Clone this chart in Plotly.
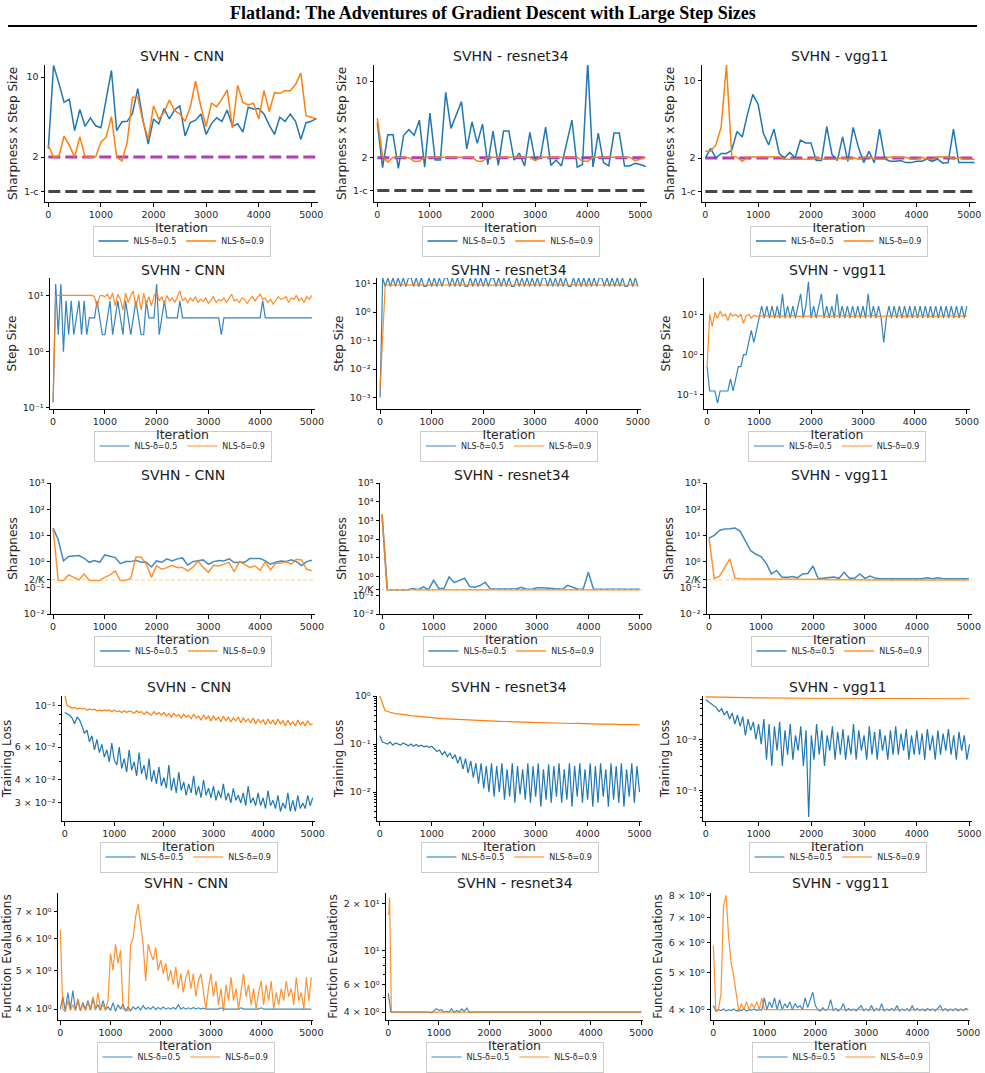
import plotly.graph_objects as go

W, H = 985, 1073
BLUE, ORANGE = '#1f77b4', '#ff7f0e'
LBL05, LBL09 = 'NLS-δ=0.5', 'NLS-δ=0.9'
COL_TITLES = ['SVHN - CNN', 'SVHN - resnet34', 'SVHN - vgg11']
ROW_YLABELS = ['Sharpness x Step Size', 'Step Size', 'Sharpness', 'Training Loss', 'Function Evaluations']
XTICKS = [0, 1000, 2000, 3000, 4000, 5000]

# ---------------- data ----------------
X_R1 = list(range(0, 5101, 100))
X100 = list(range(0, 5001, 100))
X50 = list(range(0, 5001, 50))
TWO = 2.0
ONE_MINUS_C = 1.0
TWO_OVER_K = 0.2

cnn_ss_05 = [2.37, 12.6, 8.85, 6.0, 6.4, 3.4, 5.2, 3.7, 4.4, 3.75, 3.6, 6.5, 11.4, 3.4, 4.06, 4.1, 4.8, 7.9, 4.2, 2.6,
             4.3, 3.9, 5.3, 4.3, 5.15, 5.6, 3.06, 4.0, 4.2, 4.75, 3.15, 3.9, 4.4, 4.1, 5.15, 3.7, 3.9, 3.3, 5.45, 5.25,
             5.3, 4.75, 3.8, 3.15, 4.45, 4.1, 4.75, 4.1, 2.85, 3.99, 4.1, 4.35]
cnn_ss_09 = [2.53, 2.0, 2.03, 3.05, 2.53, 2.0, 3.0, 2.0, 2.0, 2.0, 2.7, 2.98, 4.5, 2.0, 1.85, 2.7, 6.67, 6.67, 4.06, 2.87,
             5.6, 4.3, 4.9, 6.3, 5.1, 4.75, 4.1, 5.5, 9.2, 5.5, 3.7, 5.9, 5.5, 6.4, 7.7, 3.6, 8.45, 6.0, 5.7, 5.9,
             4.3, 7.6, 5.0, 7.3, 7.2, 7.6, 7.6, 8.6, 10.8, 4.6, 4.45, 4.3]
res_ss_05 = [4.2, 1.62, 3.23, 3.23, 1.6, 3.2, 3.6, 3.2, 4.4, 1.64, 5.1, 1.9, 1.9, 7.9, 3.7, 4.9, 6.5, 2.4, 4.25, 2.7,
             4.05, 1.73, 3.5, 1.7, 3.5, 3.5, 1.9, 2.2, 1.68, 3.4, 1.9, 2.0, 3.8, 1.7, 1.9, 1.68, 2.75, 4.4, 1.64, 1.73,
             14.8, 1.64, 3.35, 1.8, 1.68, 3.35, 3.35, 1.68, 1.68, 1.78, 1.73, 1.66]
res_ss_09 = [4.6, 2.05, 1.82, 2.02, 2.02, 2.02, 2.0, 1.85, 1.85, 2.02, 2.02, 2.02, 2.02, 2.02, 2.02, 2.02, 2.02, 2.02, 2.02, 1.85,
             1.85, 2.02, 2.02, 2.02, 2.02, 2.02, 2.02, 2.02, 2.02, 2.02, 1.88, 2.02, 2.02, 2.02, 2.02, 2.02, 2.02, 2.02, 2.02, 1.85,
             1.85, 2.02, 2.02, 2.02, 2.02, 2.02, 2.02, 2.02, 2.02, 1.88, 1.95, 2.02]
vgg_ss_05 = [2.0, 2.45, 2.0, 2.2, 2.2, 2.35, 3.47, 3.1, 5.0, 7.5, 6.1, 3.35, 2.63, 3.65, 2.2, 2.0, 2.25, 2.0, 2.9, 2.74,
             2.74, 1.9, 1.9, 3.85, 2.15, 1.9, 3.1, 1.87, 3.78, 2.5, 1.82, 2.3, 1.82, 3.65, 1.96, 1.87, 1.87, 1.9, 1.82, 1.82,
             1.87, 1.87, 1.96, 1.87, 1.96, 1.8, 1.82, 3.65, 1.82, 1.82, 1.82, 1.82]
vgg_ss_09 = [2.3, 2.3, 2.63, 3.8, 13.8, 2.07, 2.04, 1.87, 2.04, 2.05, 2.05, 2.05, 2.05, 2.05, 2.05, 1.95, 1.95, 1.95, 1.95, 1.96,
             1.96, 2.02, 1.96, 1.95, 1.95, 1.96, 2.03, 1.95, 2.02, 1.95, 2.03, 2.03, 1.95, 1.95, 1.96, 2.05, 2.05, 2.05, 2.03, 1.95,
             1.95, 2.03, 1.96, 1.95, 2.05, 2.05, 2.05, 1.95, 2.02, 1.95, 1.95, 1.95]

cnn_step_05 = [0.125, 16, 2, 16, 1, 8, 2, 8, 2, 4,
               8, 2, 8, 2, 4, 4, 4, 8, 4, 2,
               2, 4, 8, 2, 4, 8, 4, 2, 8, 4,
               2, 4, 8, 4, 2, 2, 8, 4, 4, 4,
               16, 2, 4, 8, 4, 4, 4, 4, 4, 8,
               4, 4, 4, 4, 4, 4, 4, 4, 4, 4,
               4, 4, 4, 4, 4, 2, 4, 4, 4, 4,
               4, 4, 4, 4, 4, 4, 4, 4, 4, 4,
               4, 8, 4, 4, 4, 4, 4, 4, 4, 4,
               4, 4, 4, 4, 4, 4, 4, 4, 4, 4,
               4]
cnn_step_09 = [0.13, 9.8, 10, 10, 10, 9.9, 10, 10, 10, 9.8,
               10, 10, 10, 9.9, 10, 10, 9.5, 6.2, 9.8, 10,
               9.5, 10.5, 8.5, 11, 6.5, 10.5, 8.5, 5.5, 11, 7.5,
               10, 12, 6, 10.5, 5.5, 11, 7, 9.5, 6.5, 10,
               11.5, 8, 9.5, 7, 10, 8, 9, 7.5, 9.5, 12,
               8, 9, 7.5, 9, 8, 9.5, 7.5, 8.5, 7.8, 9,
               7.2, 8.5, 9.5, 7.5, 8.5, 8, 9, 7.5, 8.8, 10.5,
               8, 8.5, 7.5, 9, 8.5, 7.2, 8.5, 9.5, 8, 9,
               10.5, 8.5, 9, 7.5, 8.5, 7, 8.2, 9.5, 8.5, 8.8,
               9.5, 7.5, 9, 8.5, 10, 8, 9, 7.5, 9.5, 8.5,
               10]
res_step_05 = [0.001, 16, 8, 16, 8, 16, 8, 16, 8, 16,
               8, 16, 16, 8, 16, 8, 16, 8, 8, 16,
               8, 16, 8, 16, 8, 16, 16, 8, 16, 8,
               16, 8, 16, 8, 8, 16, 8, 16, 8, 16,
               8, 16, 8, 16, 16, 8, 16, 8, 16, 8,
               16, 8, 8, 16, 8, 16, 8, 16, 8, 16,
               8, 16, 8, 16, 16, 8, 16, 8, 16, 8,
               16, 8, 16, 8, 8, 16, 8, 16, 8, 16,
               8, 16, 8, 16, 8, 16, 16, 8, 16, 8,
               16, 8, 16, 8, 16, 8, 8, 16, 8, 16,
               8]
res_step_09 = [0.002, 9.0, 9.1, 8.9, 9.0, 9.1, 9.0, 8.9, 9.0, 9.1,
               9.0, 8.9, 9.0, 9.1, 9.0, 8.9, 9.0, 9.1, 9.0, 8.9,
               9.0, 9.1, 9.0, 8.9, 9.0, 9.1, 9.0, 8.9, 9.0, 9.1,
               9.0, 8.9, 9.0, 9.1, 9.0, 8.9, 9.0, 9.1, 9.0, 8.9,
               9.0, 9.1, 9.0, 8.9, 9.0, 9.1, 9.0, 8.9, 9.0, 9.1,
               9.0]
vgg_step_05 = [0.5, 0.125, 0.125, 0.125, 0.0625, 0.125, 0.125, 0.125, 0.125, 0.25,
               0.125, 0.25, 0.5, 0.5, 1, 1, 2, 4, 2, 4,
               8, 16, 8, 16, 8, 16, 8, 16, 8, 32,
               8, 16, 8, 16, 8, 16, 32, 8, 16, 64,
               8, 16, 8, 16, 32, 8, 16, 8, 16, 8,
               32, 8, 16, 8, 16, 8, 16, 8, 16, 8,
               16, 8, 32, 8, 16, 8, 16, 8, 2, 8,
               16, 8, 16, 8, 16, 8, 16, 8, 16, 8,
               16, 8, 16, 8, 16, 8, 16, 8, 16, 8,
               16, 8, 16, 8, 16, 8, 16, 8, 16, 8,
               16]
vgg_step_09 = [0.5, 10, 5, 11, 8, 12, 9, 10, 7, 10.5,
               9, 10, 8.5, 10, 6, 9, 10, 8, 9.5, 9,
               9, 9.1, 8.9, 9, 9.2, 8.9, 9, 9.1, 8.9, 9,
               9, 9.1, 8.9, 9, 9.2, 8.9, 9, 9.1, 8.9, 9,
               9, 9.1, 8.9, 9, 9.2, 8.9, 9, 9.1, 8.9, 9,
               9, 9.1, 8.9, 9, 9.2, 8.9, 9, 9.1, 8.9, 9,
               9, 9.1, 8.9, 9, 9.2, 8.9, 9, 9.1, 8.9, 9,
               9, 9.1, 8.9, 9, 9.2, 8.9, 9, 9.1, 8.9, 9,
               9, 9.1, 8.9, 9, 9.2, 8.9, 9, 9.1, 8.9, 9,
               9, 9.1, 8.9, 9, 9.2, 8.9, 9, 9.1, 8.9, 9,
               9]

cnn_sh_05 = [19, 6.8, 1.06, 1.56, 1.65, 1.7, 1.34, 0.94, 1.09, 0.94, 1.8, 1.6, 1.42, 0.84, 1.0, 1.0, 1.13, 0.94, 0.94, 0.62,
             1.06, 0.94, 1.27, 1.06, 1.27, 1.38, 0.74, 1.0, 1.09, 1.16, 0.79, 1.0, 1.09, 1.06, 1.27, 0.92, 0.94, 0.94, 1.3, 1.3,
             1.3, 1.06, 0.79, 0.94, 1.06, 1.0, 1.16, 1.0, 0.7, 1.0, 1.13]
cnn_sh_09 = [19, 0.19, 0.19, 0.31, 0.25, 0.2, 0.34, 0.19, 0.19, 0.19, 0.25, 0.31, 0.44, 0.19, 0.19, 0.23, 1.5, 1.5, 0.81, 0.25,
             0.7, 0.51, 0.59, 0.72, 0.6, 0.6, 0.44, 0.6, 1.06, 0.6, 0.39, 0.72, 0.68, 0.79, 0.94, 0.41, 1.0, 0.79, 0.6, 0.68,
             0.46, 1.0, 0.48, 0.86, 0.86, 1.0, 0.81, 1.23, 1.16, 0.51, 0.45]
res_sh_05 = [2100, 0.2, 0.2, 0.2, 0.2, 0.2, 0.23, 0.2, 0.28, 0.2, 0.63, 0.23, 0.23, 0.96, 0.47, 0.6, 0.81, 0.29, 0.27, 0.33,
             0.5, 0.22, 0.22, 0.22, 0.22, 0.22, 0.22, 0.27, 0.21, 0.21, 0.25, 0.25, 0.24, 0.22, 0.23, 0.21, 0.34, 0.27, 0.21, 0.21,
             1.7, 0.21, 0.21, 0.23, 0.21, 0.21, 0.21, 0.21, 0.21, 0.23, 0.21]
res_sh_09_x = [0, 100, 1000, 2000, 3000, 4000, 5000]
res_sh_09 = [2100, 0.2, 0.195, 0.195, 0.195, 0.195, 0.195]
vgg_sh_05 = [7.9, 10, 15.5, 17.5, 18, 19, 14.3, 6.2, 2.6, 1.9, 1.56, 0.86, 0.34, 0.46, 0.26, 0.25, 0.27, 0.24, 0.34, 0.35,
             0.68, 0.22, 0.23, 0.24, 0.26, 0.23, 0.39, 0.23, 0.23, 0.34, 0.23, 0.28, 0.23, 0.22, 0.22, 0.22, 0.22, 0.22, 0.22, 0.22,
             0.22, 0.22, 0.24, 0.22, 0.24, 0.22, 0.22, 0.22, 0.22, 0.22, 0.22]
vgg_sh_09_x = [0, 100, 200, 300, 400, 500, 600, 1000, 1500, 2000, 2500, 3000, 3500, 4000, 4500, 5000]
vgg_sh_09 = [7.9, 0.23, 0.28, 0.6, 1.27, 0.23, 0.22, 0.215, 0.21, 0.205, 0.2, 0.2, 0.2, 0.2, 0.2, 0.2]

cnn_loss_05 = [0.092, 0.090, 0.089, 0.086, 0.080, 0.087, 0.084, 0.078, 0.071, 0.074,
               0.064, 0.069, 0.058, 0.066, 0.056, 0.062, 0.053, 0.058, 0.050, 0.063,
               0.051, 0.048, 0.060, 0.046, 0.052, 0.044, 0.058, 0.045, 0.050, 0.042,
               0.056, 0.043, 0.048, 0.040, 0.052, 0.039, 0.045, 0.038, 0.047, 0.037,
               0.041, 0.036, 0.048, 0.035, 0.041, 0.034, 0.044, 0.035, 0.039, 0.033,
               0.038, 0.034, 0.042, 0.033, 0.037, 0.032, 0.040, 0.033, 0.036, 0.032,
               0.037, 0.031, 0.035, 0.032, 0.038, 0.031, 0.034, 0.030, 0.036, 0.031,
               0.033, 0.030, 0.034, 0.029, 0.037, 0.030, 0.032, 0.029, 0.034, 0.029,
               0.032, 0.028, 0.035, 0.029, 0.031, 0.028, 0.033, 0.027, 0.030, 0.028,
               0.034, 0.027, 0.031, 0.027, 0.033, 0.028, 0.030, 0.028, 0.033, 0.029,
               0.032]
cnn_loss_09 = [0.115, 0.100, 0.099, 0.097, 0.098, 0.096, 0.097, 0.096, 0.097, 0.095,
               0.096, 0.095, 0.096, 0.094, 0.095, 0.094, 0.095, 0.094, 0.095, 0.093,
               0.095, 0.093, 0.094, 0.092, 0.094, 0.092, 0.094, 0.093, 0.091, 0.094,
               0.092, 0.093, 0.090, 0.093, 0.091, 0.089, 0.093, 0.090, 0.092, 0.089,
               0.092, 0.088, 0.091, 0.087, 0.091, 0.088, 0.090, 0.086, 0.090, 0.087,
               0.089, 0.085, 0.090, 0.086, 0.088, 0.084, 0.089, 0.085, 0.088, 0.083,
               0.088, 0.084, 0.087, 0.082, 0.088, 0.083, 0.087, 0.082, 0.086, 0.083,
               0.087, 0.081, 0.086, 0.082, 0.085, 0.081, 0.086, 0.080, 0.085, 0.081,
               0.084, 0.079, 0.085, 0.080, 0.084, 0.079, 0.085, 0.080, 0.083, 0.078,
               0.084, 0.079, 0.082, 0.078, 0.084, 0.079, 0.082, 0.078, 0.083, 0.079,
               0.080]
res_loss_05 = [0.15, 0.11, 0.105, 0.1, 0.11, 0.095, 0.105, 0.1, 0.095, 0.105,
               0.098, 0.092, 0.1, 0.09, 0.098, 0.09, 0.095, 0.088, 0.092, 0.085,
               0.09, 0.08, 0.07, 0.075, 0.06, 0.07, 0.055, 0.065, 0.05, 0.06,
               0.04, 0.055, 0.03, 0.05, 0.025, 0.045, 0.02, 0.04, 0.015, 0.04,
               0.012, 0.035, 0.01, 0.04, 0.008, 0.035, 0.01, 0.04, 0.007, 0.03,
               0.008, 0.04, 0.006, 0.035, 0.009, 0.03, 0.007, 0.04, 0.006, 0.035,
               0.008, 0.04, 0.005, 0.03, 0.007, 0.038, 0.006, 0.035, 0.008, 0.04,
               0.006, 0.03, 0.007, 0.04, 0.005, 0.035, 0.008, 0.04, 0.006, 0.03,
               0.007, 0.04, 0.005, 0.035, 0.006, 0.04, 0.008, 0.03, 0.005, 0.04,
               0.007, 0.035, 0.006, 0.04, 0.005, 0.03, 0.008, 0.04, 0.006, 0.035,
               0.01]
res_loss_09 = [1.0, 0.5, 0.46, 0.43, 0.42, 0.4, 0.39, 0.38, 0.37, 0.36,
               0.35, 0.345, 0.34, 0.335, 0.33, 0.325, 0.32, 0.318, 0.315, 0.31,
               0.305, 0.3, 0.302, 0.298, 0.295, 0.29, 0.292, 0.288, 0.285, 0.283,
               0.28, 0.282, 0.278, 0.275, 0.272, 0.275, 0.27, 0.268, 0.27, 0.265,
               0.265, 0.262, 0.26, 0.263, 0.258, 0.26, 0.255, 0.258, 0.252, 0.255,
               0.25]
vgg_loss_05 = [0.060, 0.055, 0.05, 0.045, 0.042, 0.035, 0.04, 0.03, 0.036, 0.025,
               0.033, 0.02, 0.03, 0.018, 0.028, 0.012, 0.025, 0.015, 0.022, 0.01,
               0.02, 0.008, 0.025, 0.004, 0.02, 0.003, 0.018, 0.006, 0.022, 0.003,
               0.015, 0.005, 0.02, 0.004, 0.012, 0.006, 0.018, 0.003, 0.015, 0.0003,
               0.012, 0.004, 0.02, 0.005, 0.015, 0.003, 0.012, 0.006, 0.018, 0.004,
               0.014, 0.005, 0.016, 0.004, 0.012, 0.005, 0.02, 0.004, 0.015, 0.006,
               0.012, 0.004, 0.018, 0.005, 0.014, 0.004, 0.016, 0.006, 0.012, 0.004,
               0.015, 0.005, 0.018, 0.005, 0.013, 0.006, 0.016, 0.004, 0.012, 0.005,
               0.015, 0.005, 0.013, 0.004, 0.016, 0.006, 0.012, 0.004, 0.015, 0.005,
               0.013, 0.006, 0.016, 0.005, 0.012, 0.004, 0.014, 0.006, 0.012, 0.004,
               0.008]
vgg_loss_09_x = [0, 500, 1000, 2000, 3000, 4000, 5000]
vgg_loss_09 = [0.068, 0.066, 0.065, 0.064, 0.0635, 0.063, 0.0625]

fe_cnn_05 = [4.0, 4.3, 3.95, 4.4, 4.0, 4.45, 3.98, 4.2, 3.96, 4.15,
             4.0, 4.2, 3.97, 4.25, 4.0, 4.1, 3.97, 4.2, 4.0, 4.05,
             3.97, 4.15, 3.95, 4.1, 4.0, 4.12, 3.95, 4.05, 3.96, 4.05,
             4.0, 4.05, 3.98, 4.08, 4.0, 4.04, 4.0, 4.06, 3.99, 4.04,
             4.0, 4.05, 4.0, 4.03, 4.0, 4.04, 4.0, 4.1, 4.0, 4.04,
             4.0, 4.03, 4.0, 4.04, 4.0, 4.03, 4.0, 4.02, 4.0, 4.0,
             4.0, 4.0, 4.0, 4.0, 4.03, 4.0, 4.0, 4.0, 4.0, 4.0,
             4.0, 4.0, 4.03, 4.0, 4.0, 4.0, 4.0, 4.0, 4.0, 4.0,
             4.03, 4.0, 4.0, 4.0, 4.0, 4.0, 4.0, 4.0, 4.0, 4.0,
             4.0, 4.0, 4.0, 4.0, 4.0, 4.0, 4.0, 4.0, 4.0, 4.0,
             4.0]
fe_cnn_09 = [6.3, 4.0, 3.95, 4.2, 3.97, 4.1, 3.96, 4.25, 3.98, 4.1,
             3.96, 4.15, 4.0, 4.3, 3.97, 4.4, 4.0, 4.1, 3.97, 4.2,
             5.5, 5.0, 5.8, 5.2, 5.6, 4.0, 4.0, 3.95, 5.8, 6.0,
             6.8, 7.3, 6.5, 5.8, 4.7, 5.8, 5.5, 5.3, 5.7, 5.0,
             5.3, 4.9, 5.2, 4.7, 5.0, 4.6, 5.1, 4.5, 4.9, 4.4,
             4.8, 5.0, 4.5, 4.9, 4.3, 4.7, 4.9, 4.4, 4.0, 4.5,
             4.9, 4.3, 4.7, 4.1, 4.5, 3.95, 4.6, 4.2, 4.8, 4.2,
             4.5, 4.0, 4.4, 4.9, 4.3, 4.6, 4.1, 4.5, 4.0, 4.4,
             4.7, 4.1, 4.6, 4.2, 4.7, 4.0, 4.4, 4.1, 4.5, 4.2,
             4.7, 4.3, 4.5, 4.1, 4.8, 4.2, 4.4, 4.0, 4.8, 4.2,
             4.8]
fe_res_05 = [5.3, 4.0, 4.0, 4.0, 4.0, 4.0, 4.0, 4.0, 4.0, 4.0,
             4.0, 4.0, 4.0, 4.0, 4.0, 4.0, 4.0, 3.95, 4.05, 4.2,
             4.1, 4.15, 4.0, 4.05, 4.0, 4.2, 3.98, 4.1, 4.0, 4.2,
             4.05, 4.25, 4.0, 3.98, 4.0, 4.0, 4.0, 4.0, 4.0, 4.0,
             4.0, 4.0, 4.0, 4.0, 4.0, 4.0, 4.0, 4.0, 4.0, 4.0,
             4.0, 4.0, 4.0, 4.0, 4.0, 4.0, 4.0, 4.0, 4.0, 4.0,
             4.0, 4.0, 4.0, 4.0, 4.0, 4.0, 4.0, 4.0, 4.0, 4.0,
             4.0, 4.0, 4.0, 4.0, 4.0, 4.0, 4.0, 4.0, 4.0, 4.0,
             4.0, 4.0, 4.0, 4.0, 4.0, 4.0, 4.0, 4.0, 4.0, 4.0,
             4.0, 4.0, 4.0, 4.0, 4.0, 4.0, 4.0, 4.0, 4.0, 4.0,
             4.0]
fe_res_09_x = [0, 10, 25, 60, 100, 1000, 2000, 3000, 4000, 5000]
fe_res_09 = [17, 17.5, 22, 4.0, 4.0, 4.0, 4.0, 4.0, 4.0, 4.0]
fe_vgg_05 = [4.1, 3.97, 4.0, 3.98, 4.02, 3.97, 4.0, 3.98, 4.02, 3.97,
             4.0, 3.98, 4.02, 3.97, 4.0, 3.99, 4.02, 3.98, 4.0, 3.99,
             4.3, 4.0, 4.2, 4.05, 4.3, 4.0, 4.25, 4.0, 4.15, 4.05,
             4.2, 4.0, 4.15, 4.05, 4.1, 4.0, 4.3, 4.05, 4.25, 4.45,
             4.1, 4.0, 3.97, 4.05, 3.98, 4.02, 4.25, 3.98, 4.03, 3.97,
             4.02, 4.15, 3.97, 4.03, 3.98, 4.02, 3.97, 4.03, 4.1, 3.98,
             4.02, 3.98, 4.1, 3.97, 4.03, 3.98, 4.15, 3.97, 4.02, 3.98,
             4.03, 3.98, 4.1, 3.97, 4.02, 3.98, 4.03, 3.97, 4.1, 3.98,
             4.03, 3.98, 4.02, 3.97, 4.03, 3.98, 4.02, 3.97, 4.03, 4.1,
             3.98, 4.03, 3.97, 4.02, 3.98, 4.03, 3.97, 4.02, 3.98, 4.03,
             4.0]
fe_vgg_09_x = list(range(0, 1001, 50)) + [2000, 3000, 4000, 5000]
fe_vgg_09 = [5.9, 3.95, 4.0, 4.4, 7.5, 8.0, 6.2, 5.3, 4.9, 4.4,
             3.95, 4.15, 4.0, 4.2, 4.0, 4.15, 4.05, 4.2, 4.0, 4.3,
             4.0, 4.0, 4.0, 4.0, 4.0]

# ---------------- helpers ----------------
SUP = str.maketrans('-0123456789', '⁻⁰¹²³⁴⁵⁶⁷⁸⁹')
def p10(e):
    return '10' + str(e).translate(SUP)
def m10(m, e):
    return f'{m} × 10' + str(e).translate(SUP)

def fx(p):
    return p / W
def fy(p):
    return 1 - p / H

# layout geometry (pixels)
ROW_Y = [(65, 202), (278, 409), (483, 614), (696, 821), (893, 1020)]
ROW_X = [[(45, 318), (374, 647), (702, 976)],
         [(50, 315), (377, 641), (704, 970)],
         [(51, 315), (380, 643), (707, 972)],
         [(62, 315), (377, 642), (703, 972)],
         [(58, 313), (386, 643), (711, 970)]]
TITLE_Y = [56, 270, 475, 687, 883]
LEG_Y = [241, 446, 651, 857, 1057]

def dec_axis(lo, hi, extra=None):
    vals = [10.0 ** e for e in range(lo, hi + 1)]
    txt = [p10(e) for e in range(lo, hi + 1)]
    if extra:
        vals.append(extra[0]); txt.append(extra[1])
    return vals, txt

sharp_cnn = dec_axis(-2, 3, (TWO_OVER_K, '2/K'))
sharp_res = dec_axis(-2, 5, (TWO_OVER_K, '2/K'))

panels = [
    # row 1
    dict(s=[(X_R1, cnn_ss_05), (X_R1, cnn_ss_09)], yr=[-0.092, 1.105], tv=[ONE_MINUS_C, TWO, 10], tt=['1-c', '2', '10'], xr=[-63, 5127], ref='ss'),
    dict(s=[(X_R1, res_ss_05), (X_R1, res_ss_09)], yr=[-0.104, 1.147], tv=[ONE_MINUS_C, TWO, 10], tt=['1-c', '2', '10'], xr=[-63, 5127], ref='ss'),
    dict(s=[(X_R1, vgg_ss_05), (X_R1, vgg_ss_09)], yr=[-0.095, 1.14], tv=[ONE_MINUS_C, TWO, 10], tt=['1-c', '2', '10'], xr=[-63, 5127], ref='ss'),
    # row 2
    dict(s=[(X50, cnn_step_05), (X50, cnn_step_09)], yr=[-1.02, 1.31], tv=[0.1, 1, 10], tt=[p10(-1), p10(0), p10(1)], xr=[-60, 5060]),
    dict(s=[(X50, res_step_05), (X100, res_step_09)], yr=[-3.4, 1.2], tv=[1e-3, 1e-2, 1e-1, 1, 10], tt=[p10(-3), p10(-2), p10(-1), p10(0), p10(1)], xr=[-60, 5060]),
    dict(s=[(X50, vgg_step_05), (X50, vgg_step_09)], yr=[-1.35, 1.9], tv=[0.1, 1, 10], tt=[p10(-1), p10(0), p10(1)], xr=[-60, 5060]),
    # row 3
    dict(s=[(X100, cnn_sh_05), (X100, cnn_sh_09)], yr=[-2, 3], tv=sharp_cnn[0], tt=sharp_cnn[1], xr=[-40, 5060], ref='k'),
    dict(s=[(X100, res_sh_05), (res_sh_09_x, res_sh_09)], yr=[-2, 5], tv=sharp_res[0], tt=sharp_res[1], xr=[-40, 5060], ref='k'),
    dict(s=[(X100, vgg_sh_05), (vgg_sh_09_x, vgg_sh_09)], yr=[-2, 3], tv=sharp_cnn[0], tt=sharp_cnn[1], xr=[-40, 5060], ref='k'),
    # row 4
    dict(s=[(X50, cnn_loss_05), (X50, cnn_loss_09)], yr=[-1.62, -0.947], tv=[0.03, 0.04, 0.06, 0.1], tt=[m10(3, -2), m10(4, -2), m10(6, -2), p10(-1)],
         minor=[0.05, 0.07, 0.08, 0.09], xr=[-54, 5047]),
    dict(s=[(X50, res_loss_05), (X100, res_loss_09)], yr=[-2.6, 0.0], tv=[0.01, 0.1, 1], tt=[p10(-2), p10(-1), p10(0)],
         minor=[0.003, 0.004, 0.005, 0.006, 0.007, 0.008, 0.009, 0.02, 0.03, 0.04, 0.05, 0.06, 0.07, 0.08, 0.09, 0.2, 0.3, 0.4, 0.5, 0.6, 0.7, 0.8, 0.9], xr=[-54, 5047]),
    dict(s=[(X50, vgg_loss_05), (vgg_loss_09_x, vgg_loss_09)], yr=[-3.6, -1.15], tv=[0.001, 0.01], tt=[p10(-3), p10(-2)],
         minor=[0.0003, 0.0004, 0.0005, 0.0006, 0.0007, 0.0008, 0.0009, 0.002, 0.003, 0.004, 0.005, 0.006, 0.007, 0.008, 0.009, 0.02, 0.03, 0.04, 0.05, 0.06], xr=[-54, 5047]),
    # row 5
    dict(s=[(X50, fe_cnn_05), (X50, fe_cnn_09)], yr=[0.575, 0.891], tv=[4, 5, 6, 7], tt=[m10(4, 0), m10(5, 0), m10(6, 0), m10(7, 0)], xr=[-46, 5033]),
    dict(s=[(X50, fe_res_05), (fe_res_09_x, fe_res_09)], yr=[0.551, 1.371], tv=[4, 6, 10, 20], tt=[m10(4, 0), m10(6, 0), p10(1), m10(2, 1)],
         minor=[5, 7, 8, 9], xr=[-46, 5033]),
    dict(s=[(X50, fe_vgg_05), (fe_vgg_09_x, fe_vgg_09)], yr=[0.575, 0.909], tv=[4, 5, 6, 7, 8], tt=[m10(4, 0), m10(5, 0), m10(6, 0), m10(7, 0), m10(8, 0)], xr=[-46, 5033]),
]

FONT = 'DejaVu Sans'
TICKFONT = dict(family=FONT, size=9.5, color='#262626')
fig = go.Figure()
layout = dict(width=W, height=H, margin=dict(l=0, r=0, t=0, b=0), paper_bgcolor='white', plot_bgcolor='white',
              font=dict(family=FONT, color='#262626'), showlegend=True)
annotations = []
ROW_LW = [1.5, 1.2, 1.5, 1.2, 1.2]
ROW_OP = [1.0, 0.9, 0.85, 1.0, 0.85]

for idx, p in enumerate(panels):
    r, c = divmod(idx, 3)
    k = idx + 1
    xa = 'x' if k == 1 else f'x{k}'
    ya = 'y' if k == 1 else f'y{k}'
    lg = 'legend' if k == 1 else f'legend{k}'
    x0, x1 = ROW_X[r][c]
    y0, y1 = ROW_Y[r]
    # reference lines
    if p.get('ref') == 'ss':
        xs = p['s'][0][0]
        fig.add_trace(go.Scatter(x=[xs[0], xs[-1]], y=[TWO, TWO], mode='lines', xaxis=xa, yaxis=ya, showlegend=False,
                                 line=dict(color='#b23db4', width=3, dash='12px,5px'), hoverinfo='skip'))
        fig.add_trace(go.Scatter(x=[xs[0], xs[-1]], y=[ONE_MINUS_C, ONE_MINUS_C], mode='lines', xaxis=xa, yaxis=ya, showlegend=False,
                                 line=dict(color='#474747', width=3, dash='12px,5px'), hoverinfo='skip'))
    for j, (xs, ys) in enumerate(p['s']):
        assert len(xs) == len(ys), (idx, j, len(xs), len(ys))
        fig.add_trace(go.Scatter(x=xs, y=ys, mode='lines', name=[LBL05, LBL09][j], xaxis=xa, yaxis=ya,
                                 legend=lg, opacity=ROW_OP[r],
                                 line=dict(color=[BLUE, ORANGE][j], width=ROW_LW[r])))
    if p.get('ref') == 'k':
        fig.add_trace(go.Scatter(x=[p['xr'][0], p['xr'][1]], y=[TWO_OVER_K, TWO_OVER_K], mode='lines', xaxis=xa, yaxis=ya,
                                 showlegend=False, line=dict(color='rgba(255,196,70,0.75)', width=1, dash='4px,2px'),
                                 hoverinfo='skip'))
    axis_common = dict(showline=True, linecolor='black', linewidth=1, ticks='outside', ticklen=3.5, tickwidth=1,
                       tickcolor='black', showgrid=False, zeroline=False, tickfont=TICKFONT, automargin=False)
    layout['xaxis' if k == 1 else f'xaxis{k}'] = dict(
        domain=[fx(x0), fx(x1)], anchor=ya, range=p['xr'], tickmode='array', tickvals=XTICKS,
        title=dict(text='Iteration', font=dict(family=FONT, size=12.5, color='#262626'), standoff=1), **axis_common)
    yd = dict(domain=[fy(y1), fy(y0)], anchor=xa, type='log', range=p['yr'], tickmode='array', tickvals=p['tv'],
              ticktext=p['tt'], title=dict(text=ROW_YLABELS[r], font=dict(family=FONT, size=12, color='#262626'), standoff=3),
              **axis_common)
    if p.get('minor'):
        yd['minor'] = dict(tickmode='array', tickvals=p['minor'], ticks='outside', ticklen=2, tickcolor='black', showgrid=False)
    layout['yaxis' if k == 1 else f'yaxis{k}'] = yd
    annotations.append(dict(text=COL_TITLES[c], x=fx((x0 + x1) / 2), y=fy(TITLE_Y[r]), xref='paper', yref='paper',
                            xanchor='center', yanchor='middle', showarrow=False,
                            font=dict(family=FONT, size=14, color='#1a1a1a')))
    layout[lg] = dict(orientation='h', x=fx((x0 + x1) / 2), xanchor='center', y=fy(LEG_Y[r]), yanchor='middle',
                      bordercolor='#cccccc', borderwidth=1, bgcolor='white',
                      font=dict(family=FONT, size=8, color='#262626'), itemwidth=30, traceorder='normal')

annotations.append(dict(text='<b>Flatland: The Adventures of Gradient Descent with Large Step Sizes</b>',
                        x=0.5, y=fy(13), xref='paper', yref='paper', xanchor='center', yanchor='middle', showarrow=False,
                        font=dict(family='Liberation Serif', size=18, color='black')))
layout['annotations'] = annotations
layout['shapes'] = [dict(type='line', xref='paper', yref='paper', x0=fx(8), x1=fx(977), y0=fy(26), y1=fy(26),
                         line=dict(color='black', width=2))]
fig.update_layout(**layout)
fig.write_html('out.html')
